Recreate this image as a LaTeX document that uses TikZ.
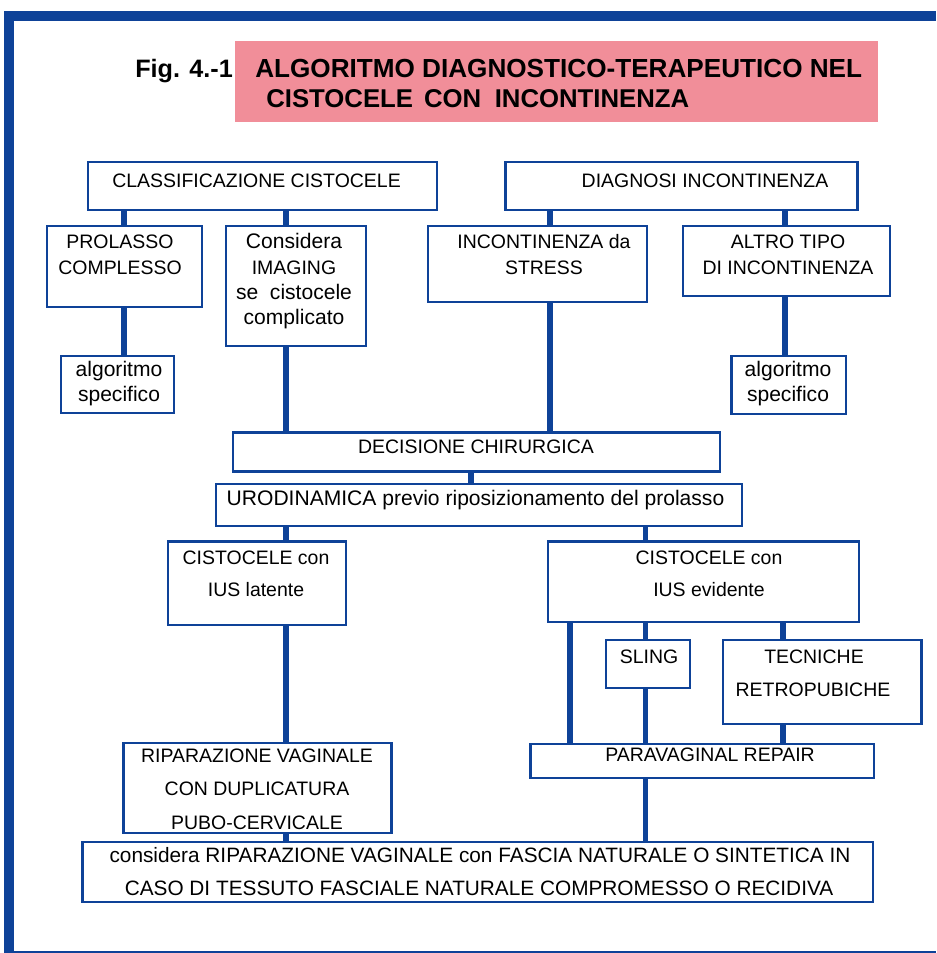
\documentclass[tikz,border=0pt]{standalone}
\usepackage{fontspec}
\setmainfont{Liberation Sans}
\usetikzlibrary{fit}
\definecolor{frameblue}{RGB}{14,66,152}
\definecolor{titlepink}{RGB}{241,142,153}
% rectangular box spanning two corners, given in pixel units
\newcommand\rbox[5]{%
  \coordinate (#1-a) at (#2,#3);
  \coordinate (#1-b) at (#4,#5);
  \node[box, fit=(#1-a)(#1-b)] (#1) {};}
\begin{document}
\begin{tikzpicture}[x=0.75pt,y=-0.75pt,
  box/.style={draw=frameblue, line width=1.7pt, inner sep=0pt},
  conn/.style={draw=frameblue, line width=3.9pt},
  txt/.style={inner sep=0pt, anchor=base, font=\fontsize{14.6}{17}\selectfont},
  txtl/.style={txt, font=\fontsize{15.8}{18}\selectfont},
  txtb/.style={txt, font=\fontsize{15.6}{18}\selectfont},
  ttl/.style={inner sep=0pt, anchor=base west, font=\bfseries\fontsize{19.6}{24}\selectfont},
  ttlb/.style={ttl, font=\bfseries\fontsize{19.3}{24}\selectfont},
  ttlf/.style={ttl, font=\bfseries\fontsize{18.9}{24}\selectfont}]
\useasboundingbox (0,0) rectangle (936,953);

% page frame
\fill[frameblue] (4,10.5) rectangle (936,21);
\fill[frameblue] (4,10.5) rectangle (14,953);
\fill[frameblue] (4,950.5) rectangle (936,952.5);

% title
\fill[titlepink] (235,41) rectangle (878,122);
\node[ttlf] (fig) at (135,77) {Fig. 4.-1};
\node[ttl] (title1) at (255,77) {ALGORITMO DIAGNOSTICO-TERAPEUTICO NEL};
\node[ttlb] (title2) at (266,107.5) {CISTOCELE\hspace{0.15em} CON\hspace{0.25em} INCONTINENZA};

% boxes
\rbox{cls}{88}{162}{437}{210}
\rbox{diag}{505.5}{162}{857.5}{210}
\rbox{prol}{47}{226}{202}{307}
\rbox{cons}{226}{226}{366}{346}
\rbox{inc}{428}{226}{647}{302}
\rbox{altro}{683}{226}{890}{296}
\rbox{alga}{61}{356}{174}{413}
\rbox{algb}{731.5}{356}{846}{414}
\rbox{dec}{233}{432.5}{720}{471.5}
\rbox{uro}{216}{484}{742}{526}
\rbox{cisa}{168}{541.5}{346}{625}
\rbox{cisb}{548}{541.5}{859}{622}
\rbox{sling}{606}{640}{690}{688}
\rbox{tecn}{723}{640}{921.5}{724}
\rbox{para}{530.5}{744}{874}{778}
\rbox{ripa}{123.5}{743}{391.5}{833}
\rbox{final}{82.5}{842}{873}{902}

% box texts
\node[txt] (cls-t) at (256.5,187) {CLASSIFICAZIONE CISTOCELE};
\node[txt] (diag-t) at (705,187) {DIAGNOSI INCONTINENZA};
\node[txt] (prol-t1) at (120,248) {PROLASSO};
\node[txt] (prol-t2) at (120,274) {COMPLESSO};
\node[txtl] (cons-t1) at (294,248) {Considera};
\node[txt] (cons-t2) at (294,274) {IMAGING};
\node[txtl] (cons-t3) at (294,299) {se~~cistocele};
\node[txtl] (cons-t4) at (294,324) {complicato};
\node[txt] (inc-t1) at (544,248) {INCONTINENZA da};
\node[txt] (inc-t2) at (544,274) {STRESS};
\node[txt] (altro-t1) at (788,248) {ALTRO TIPO};
\node[txt] (altro-t2) at (788,274) {DI INCONTINENZA};
\node[txtl] (alga-t1) at (119,376) {algoritmo};
\node[txtl] (alga-t2) at (119,401) {specifico};
\node[txtl] (algb-t1) at (788,376) {algoritmo};
\node[txtl] (algb-t2) at (788,401) {specifico};
\node[txt] (dec-t) at (476,453) {DECISIONE CHIRURGICA};
\node[txtl] (uro-t) at (475.5,505) {URODINAMICA previo riposizionamento del prolasso};
\node[txt] (cisa-t1) at (256,564) {CISTOCELE con};
\node[txt] (cisa-t2) at (256,596) {IUS latente};
\node[txt] (cisb-t1) at (709,564) {CISTOCELE con};
\node[txt] (cisb-t2) at (709,596) {IUS evidente};
\node[txt] (sling-t) at (649,663) {SLING};
\node[txt] (tecn-t1) at (814,663) {TECNICHE};
\node[txt] (tecn-t2) at (813,696) {RETROPUBICHE};
\node[txt] (para-t) at (710,761) {PARAVAGINAL REPAIR};
\node[txt] (ripa-t1) at (257,762) {RIPARAZIONE VAGINALE};
\node[txt] (ripa-t2) at (257,795) {CON DUPLICATURA};
\node[txt] (ripa-t3) at (257,829) {PUBO-CERVICALE};
\node[txtb] (final-t1) at (480,862) {considera RIPARAZIONE VAGINALE con FASCIA NATURALE O SINTETICA IN};
\node[txtb] (final-t2) at (479,895) {CASO DI TESSUTO FASCIALE NATURALE COMPROMESSO O RECIDIVA};

% connector columns
\coordinate (c1) at (124,0);
\coordinate (c2) at (286,0);
\coordinate (c3) at (550,0);
\coordinate (c4) at (785,0);
\coordinate (c5) at (471,0);
\coordinate (c7) at (645.5,0);
\coordinate (c8) at (570,0);
\coordinate (c9) at (783,0);

% connectors
\draw[conn] (c1 |- cls.south) -- (c1 |- prol.north);
\draw[conn] (c1 |- prol.south) -- (c1 |- alga.north);
\draw[conn] (c2 |- cls.south) -- (c2 |- cons.north);
\draw[conn] (c2 |- cons.south) -- (c2 |- dec.north);
\draw[conn] (c3 |- diag.south) -- (c3 |- inc.north);
\draw[conn] (c3 |- inc.south) -- (c3 |- dec.north);
\draw[conn] (c4 |- diag.south) -- (c4 |- altro.north);
\draw[conn] (c4 |- altro.south) -- (c4 |- algb.north);
\draw[conn] (c5 |- dec.south) -- (c5 |- uro.north);
\draw[conn] (c2 |- uro.south) -- (c2 |- cisa.north);
\draw[conn] (c7 |- uro.south) -- (c7 |- cisb.north);
\draw[conn] (c2 |- cisa.south) -- (c2 |- ripa.north);
\draw[conn] (c2 |- ripa.south) -- (c2 |- final.north);
\draw[conn] (c8 |- cisb.south) -- (c8 |- para.north);
\draw[conn] (c7 |- cisb.south) -- (c7 |- sling.north);
\draw[conn] (c7 |- sling.south) -- (c7 |- para.north);
\draw[conn] (c9 |- cisb.south) -- (c9 |- tecn.north);
\draw[conn] (c9 |- tecn.south) -- (c9 |- para.north);
\draw[conn] (c7 |- para.south) -- (c7 |- final.north);
\end{tikzpicture}
\end{document}
